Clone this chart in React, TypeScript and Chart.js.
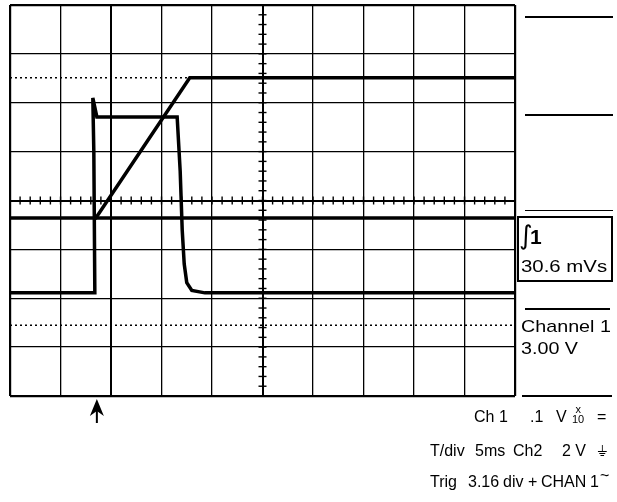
import React, { useEffect, useRef } from "react";
import { Chart, registerables } from "chart.js";

Chart.register(...registerables);

// Screen geometry in divisions: 10 horizontal, 8 vertical (centre = 0)
const xDivs = [0, 10];
const yDivs = [-4, 4];

// Channel 1: pulse (time in div, level in div)
const ch1Time = [0, 1.68, 1.66, 1.64, 1.72, 3.31, 3.37, 3.41, 3.45, 3.5, 3.6, 3.86, 10];
const ch1Level = [-1.89, -1.89, 1.0, 2.1, 1.71, 1.71, 0.6, -0.6, -1.3, -1.68, -1.84, -1.89, -1.89];

// Channel 2: integral ramp
const ch2Time = [0, 1.7, 3.56, 10];
const ch2Level = [-0.36, -0.36, 2.51, 2.51];

// Channel 2 reference level continuing after the ramp start
const refTime = [1.7, 10];
const refLevel = [-0.36, -0.36];

// Faint dotted traces
const dotTopTime = [0, 3.56];
const dotTopLevel = [2.51, 2.51];
const dotLowTime = [0, 10];
const dotLowLevel = [-2.55, -2.55];

// Trigger position marker
const triggerTime = 1.72;

// Read-out words: [text, left px]
const readoutCh1: [string, number][] = [["Ch 1", 474], [".1", 530], ["V", 556]];
const readoutTime: [string, number][] = [["T/div", 430], ["5ms", 475], ["Ch2", 513], ["2 V", 562]];
const readoutTrig: [string, number][] = [["Trig", 430], ["3.16", 468], ["div", 503], ["+", 528], ["CHAN", 541], ["1", 590]];

const pts = (xs: number[], ys: number[]) => xs.map((x, i) => ({ x, y: ys[i] }));

const centreTicks = {
  id: "centreTicks",
  beforeDatasetsDraw(chart: any) {
    const { ctx, scales } = chart;
    const xs = scales.x;
    const ys = scales.y;
    ctx.save();
    ctx.strokeStyle = "#000";
    ctx.lineWidth = 1.4;
    const y0 = ys.getPixelForValue(0);
    for (let i = 0; i <= 50; i++) {
      const px = xs.getPixelForValue(i * 0.2);
      ctx.beginPath();
      ctx.moveTo(px, y0 - 4);
      ctx.lineTo(px, y0 + 4);
      ctx.stroke();
    }
    const x0 = xs.getPixelForValue(5);
    for (let i = 0; i <= 40; i++) {
      const py = ys.getPixelForValue(-4 + i * 0.2);
      ctx.beginPath();
      ctx.moveTo(x0 - 4, py);
      ctx.lineTo(x0 + 4, py);
      ctx.stroke();
    }
    ctx.restore();
  },
  afterDraw(chart: any) {
    const { ctx, scales, chartArea } = chart;
    const px = scales.x.getPixelForValue(triggerTime);
    const top = chartArea.bottom + 3;
    ctx.save();
    ctx.fillStyle = "#000";
    ctx.strokeStyle = "#000";
    ctx.beginPath();
    ctx.moveTo(px, top);
    ctx.lineTo(px + 7, top + 17);
    ctx.lineTo(px, top + 12);
    ctx.lineTo(px - 7, top + 17);
    ctx.closePath();
    ctx.fill();
    ctx.lineWidth = 2;
    ctx.beginPath();
    ctx.moveTo(px, top + 10);
    ctx.lineTo(px, top + 24);
    ctx.stroke();
    ctx.restore();
  },
};

const textBase: React.CSSProperties = {
  position: "absolute",
  fontFamily: '"Liberation Sans", Arial, sans-serif',
  fontSize: "16px",
  lineHeight: "16px",
  color: "#000",
  whiteSpace: "pre",
};

const hLine = (left: number, top: number, width: number, h = 1.5): React.CSSProperties => ({
  position: "absolute",
  left,
  top,
  width,
  height: h,
  background: "#000",
});

const Words = ({ words, top }: { words: [string, number][]; top: number }) => (
  <>
    {words.map(([t, left]) => (
      <div key={t + left} style={{ ...textBase, left, top }}>
        {t}
      </div>
    ))}
  </>
);

export default function App() {
  const canvasRef = useRef<HTMLCanvasElement>(null);

  useEffect(() => {
    const canvas = canvasRef.current;
    if (!canvas) return;
    const chart = new Chart(canvas, {
      type: "line",
      data: {
        datasets: [
          {
            label: "Ch1",
            data: pts(ch1Time, ch1Level),
            borderColor: "#000",
            borderWidth: 3.5,
            pointRadius: 0,
            tension: 0,
          },
          {
            label: "Ch2",
            data: pts(ch2Time, ch2Level),
            borderColor: "#000",
            borderWidth: 3.5,
            pointRadius: 0,
            tension: 0,
          },
          {
            label: "Ref",
            data: pts(refTime, refLevel),
            borderColor: "#000",
            borderWidth: 3.5,
            pointRadius: 0,
          },
          {
            label: "DotTop",
            data: pts(dotTopTime, dotTopLevel),
            borderColor: "#000",
            borderWidth: 1.5,
            borderDash: [2, 3],
            pointRadius: 0,
          },
          {
            label: "DotLow",
            data: pts(dotLowTime, dotLowLevel),
            borderColor: "#000",
            borderWidth: 1.5,
            borderDash: [2, 3],
            pointRadius: 0,
          },
        ],
      },
      options: {
        animation: false,
        responsive: false,
        devicePixelRatio: 1,
        parsing: false,
        layout: { padding: { left: 10, top: 5, right: 102, bottom: 106 } },
        plugins: { legend: { display: false }, tooltip: { enabled: false } },
        scales: {
          x: {
            type: "linear",
            min: xDivs[0],
            max: xDivs[1],
            ticks: { display: false, stepSize: 1 },
            border: { display: false },
            grid: {
              drawTicks: false,
              color: "#000",
              lineWidth: (c: any) =>
                c.tick && (c.tick.value === 0 || c.tick.value === 10) ? 2.2 : c.tick && (c.tick.value === 5 || c.tick.value === 2) ? 2 : 1.3,
            },
          },
          y: {
            type: "linear",
            min: yDivs[0],
            max: yDivs[1],
            ticks: { display: false, stepSize: 1 },
            border: { display: false },
            grid: {
              drawTicks: false,
              color: "#000",
              lineWidth: (c: any) =>
                c.tick && (c.tick.value === -4 || c.tick.value === 4) ? 2.2 : c.tick && c.tick.value === 0 ? 2 : 1.3,
            },
          },
        },
      },
      plugins: [centreTicks],
    });
    return () => chart.destroy();
  }, []);

  return (
    <div style={{ position: "absolute", left: 0, top: 0, width: 617, height: 502, background: "#fff", overflow: "hidden" }}>
      <canvas ref={canvasRef} width={617} height={502} style={{ position: "absolute", left: 0, top: 0, width: 617, height: 502 }} />

      <div style={hLine(525, 16, 88)} />
      <div style={hLine(525, 114, 88)} />
      <div style={hLine(525, 210, 88, 1.2)} />
      <div
        style={{
          position: "absolute",
          left: 517,
          top: 216,
          width: 92,
          height: 62,
          border: "2px solid #000",
        }}
      />
      <div style={{ ...textBase, left: 519, top: 222, fontSize: "26px", lineHeight: "26px", fontFamily: '"DejaVu Sans", sans-serif' }}>∫</div>
      <div style={{ ...textBase, left: 530, top: 226, fontSize: "21px", lineHeight: "21px", fontWeight: "bold" }}>1</div>
      <div style={{ ...textBase, left: 521, top: 259, fontSize: "17px", transform: "scaleX(1.2)", transformOrigin: "left" }}>30.6 mVs</div>
      <div style={hLine(525, 308, 85)} />
      <div style={{ ...textBase, left: 521, top: 319, fontSize: "17px", transform: "scaleX(1.16)", transformOrigin: "left" }}>Channel 1</div>
      <div style={{ ...textBase, left: 521, top: 341, fontSize: "17px", transform: "scaleX(1.16)", transformOrigin: "left" }}>3.00 V</div>
      <div style={hLine(522, 395, 90)} />

      <Words words={readoutCh1} top={409} />
      <div
        style={{
          ...textBase,
          left: 572,
          top: 404,
          fontSize: "11px",
          lineHeight: "10px",
          textAlign: "center",
        }}
      >
        x<br />10
      </div>
      <div style={{ ...textBase, left: 597, top: 409 }}>=</div>

      <Words words={readoutTime} top={443} />
      <div style={{ ...textBase, left: 597, top: 443, fontFamily: '"DejaVu Sans", sans-serif', fontSize: "15px" }}>⏚</div>

      <Words words={readoutTrig} top={474} />
      <div style={{ ...textBase, left: 600, top: 468 }}>~</div>
    </div>
  );
}
